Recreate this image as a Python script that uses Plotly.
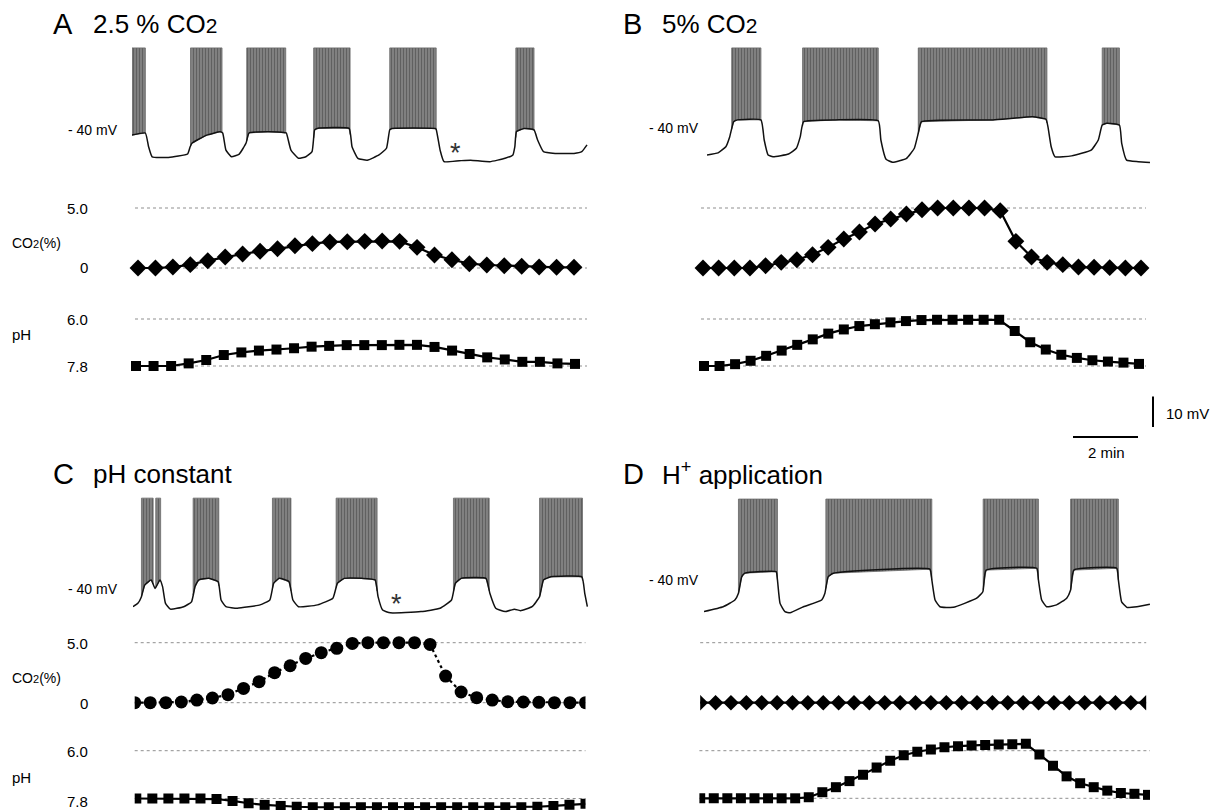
import numpy as np
import plotly.graph_objects as go

W, H = 1216, 810
PX_PER_MIN = 32.5
PX_PER_MV = 3.05
FONT = "Liberation Sans, Arial, Helvetica, sans-serif"

# ---------------- data ----------------
# Panel A: membrane potential breakpoints (min, mV), burst windows (min)
A_t = [0, 0.41, 0.51, 0.62, 1.12, 1.71, 1.79, 1.85, 2.30, 2.71, 2.79, 2.89, 3.06, 3.30, 3.51, 3.60,
       4.18, 4.71, 4.75, 4.89, 5.12, 5.35, 5.54, 5.62, 5.70, 6.68, 6.77, 6.95, 7.24, 7.60, 7.83, 7.93,
       8.0, 9.33, 9.36, 9.48, 9.60, 10.07, 10.42, 11.01, 11.48, 11.72, 11.78, 11.83, 12.07, 12.37,
       12.48, 12.66, 13.02, 13.60, 13.84, 14.0]
A_mv = [-40.7, -40.0, -44.5, -47.8, -48.0, -46.9, -44.5, -43.3, -40.7, -39.6, -40.0, -45.6, -47.8,
        -46.9, -43.3, -40.0, -39.6, -39.9, -40.0, -45.6, -48.3, -47.8, -46.1, -39.0, -38.5, -38.5,
        -44.5, -48.3, -48.9, -47.2, -45.0, -39.0, -38.5, -38.5, -38.8, -45.6, -49.4, -49.1, -48.9,
        -49.4, -48.3, -47.2, -44.5, -39.5, -38.5, -39.0, -42.3, -46.1, -46.7, -46.7, -46.1, -43.9]
A_burst_on = [0.0, 1.80, 3.53, 5.59, 7.93, 11.81]
A_burst_off = [0.41, 2.77, 4.73, 6.71, 9.36, 12.37]
A_co2 = [0, 0, 0.08, 0.28, 0.61, 0.92, 1.17, 1.39, 1.61, 1.86, 2.03, 2.17, 2.19, 2.22, 2.25, 2.22,
         1.72, 1.08, 0.69, 0.36, 0.25, 0.19, 0.14, 0.08, 0.06, 0.06]
A_ph = [7.8, 7.8, 7.8, 7.70, 7.57, 7.38, 7.28, 7.21, 7.17, 7.12, 7.06, 7.03, 7.00, 7.00, 7.00, 6.99,
        6.99, 7.07, 7.21, 7.34, 7.47, 7.55, 7.64, 7.64, 7.70, 7.72]

# Panel B
B_t = [0, 0.34, 0.58, 0.70, 0.82, 0.94, 1.66, 1.76, 1.88, 2.03, 2.51, 2.75, 2.87, 2.97, 3.96, 5.27,
       5.35, 5.51, 5.71, 6.14, 6.38, 6.50, 6.60, 8.80, 10.01, 10.43, 10.49, 10.59, 10.71, 11.22,
       11.82, 12.04, 12.16, 12.30, 12.69, 12.76, 12.91, 13.27, 13.63]
B_mv = [-47.2, -46.5, -44.5, -41.2, -36.3, -35.7, -35.7, -42.3, -47.2, -47.8, -46.9, -45.0, -41.2,
        -36.3, -35.7, -36.0, -42.3, -48.6, -49.6, -48.3, -45.0, -40.1, -36.3, -35.7, -34.7, -35.5,
        -37.9, -44.5, -47.8, -47.5, -45.6, -42.3, -37.4, -36.8, -37.4, -43.4, -48.9, -49.4, -49.7]
B_burst_on = [0.76, 2.94, 6.50, 12.16]
B_burst_off = [1.66, 5.27, 10.46, 12.69]
B_co2 = [0, 0, 0, 0, 0.19, 0.47, 0.69, 1.11, 1.72, 2.42, 3.0, 3.67, 4.08, 4.5, 4.86, 5.0, 5.0, 5.0,
         5.0, 4.78, 2.22, 0.92, 0.47, 0.28, 0.08, 0.06, 0.03, 0, 0]
B_ph = [7.8, 7.8, 7.73, 7.60, 7.41, 7.21, 6.99, 6.78, 6.56, 6.40, 6.27, 6.20, 6.13, 6.08, 6.04, 6.03,
        6.03, 6.03, 6.03, 6.03, 6.46, 6.89, 7.17, 7.37, 7.49, 7.58, 7.63, 7.67, 7.72]

# Panel C
C_t = [0, 0.15, 0.26, 0.36, 0.56, 0.68, 0.83, 0.91, 1.00, 1.15, 1.56, 1.80, 1.91, 2.03, 2.33, 2.62,
       2.71, 2.86, 3.21, 3.91, 4.21, 4.33, 4.50, 4.80, 4.92, 5.09, 5.68, 6.15, 6.29, 6.50, 7.04, 7.45,
       7.54, 7.68, 7.92, 8.86, 9.45, 9.80, 9.92, 10.10, 10.86, 10.98, 11.16, 11.45, 11.74, 11.92,
       12.28, 12.51, 12.63, 12.86, 13.81, 13.90, 13.98]
C_mv = [-44.5, -43.4, -41.2, -37.4, -35.7, -38.5, -35.7, -37.9, -43.4, -45.3, -44.5, -42.9, -37.9,
        -35.7, -35.2, -36.3, -42.3, -44.5, -45.0, -43.9, -42.3, -36.8, -35.2, -36.3, -42.3, -44.5,
        -43.9, -41.7, -36.8, -35.2, -35.2, -35.7, -41.2, -45.6, -46.5, -46.1, -45.0, -42.3, -36.8,
        -35.2, -35.2, -40.1, -45.0, -46.1, -45.3, -45.8, -44.5, -41.2, -35.7, -34.7, -34.7, -40.1,
        -44.5]
C_burst_on = [0.26, 0.70, 1.85, 4.29, 6.25, 9.86, 12.51]
C_burst_off = [0.62, 0.85, 2.64, 4.86, 7.51, 10.96, 13.83]
C_co2 = [0, 0, 0, 0.06, 0.22, 0.39, 0.67, 1.19, 1.75, 2.5, 3.08, 3.69, 4.17, 4.53, 4.94, 5.0, 5.0,
         5.0, 5.0, 4.86, 2.22, 0.89, 0.42, 0.22, 0.08, 0.06, 0.03, 0, 0, 0]
C_ph = [7.8, 7.8, 7.8, 7.8, 7.8, 7.82, 7.89, 7.98, 8.04, 8.08, 8.11, 8.13, 8.13, 8.13, 8.13, 8.13,
        8.13, 8.13, 8.13, 8.13, 8.13, 8.13, 8.13, 8.13, 8.13, 8.11, 8.08, 8.04, 8.0]

# Panel D
D_t = [0, 0.59, 0.95, 1.06, 1.16, 1.26, 2.22, 2.26, 2.34, 2.49, 2.65, 3.06, 3.62, 3.72, 3.82, 3.98,
       6.95, 7.01, 7.11, 7.26, 7.67, 8.39, 8.58, 8.68, 10.24, 10.29, 10.39, 10.54, 10.85, 11.16,
       11.28, 11.38, 12.70, 12.75, 12.85, 13.01, 13.32, 13.72]
D_mv = [-46.1, -44.5, -42.3, -40.1, -34.7, -33.5, -33.0, -35.7, -43.4, -46.1, -46.5, -44.5, -42.3,
        -40.1, -34.7, -33.5, -32.2, -35.7, -42.3, -44.5, -44.7, -41.7, -39.6, -32.5, -31.9, -35.7,
        -42.3, -44.5, -43.9, -41.7, -39.0, -32.5, -31.9, -35.7, -42.9, -44.7, -44.5, -43.7]
D_burst_on = [1.06, 3.75, 8.59, 11.28]
D_burst_off = [2.26, 7.01, 10.29, 12.75]
D_co2 = [0] * 30
D_ph = [7.8, 7.8, 7.8, 7.8, 7.8, 7.8, 7.8, 7.8, 7.76, 7.57, 7.38, 7.15, 6.91, 6.64, 6.38, 6.17, 6.04,
        5.95, 5.87, 5.83, 5.80, 5.78, 5.77, 5.76, 5.74, 6.14, 6.57, 6.97, 7.23, 7.38, 7.51, 7.60,
        7.63, 7.67]

SPIKE_TOP_AB = -12.1
SPIKE_TOP_C = -8.9
SPIKE_TOP_D = -9.2
SCALE_MIN = 2
SCALE_MV = 10

# ---------------- figure ----------------
fig = go.Figure()
layout_axes = {}
counter = [0]


def clamp(v):
    return min(1.0, max(0.0, v))


def new_axes(x0, x1, y0, y1, xr, yr):
    counter[0] += 1
    n = counter[0]
    sfx = "" if n == 1 else str(n)
    layout_axes["xaxis" + sfx] = dict(domain=[clamp(x0 / W), clamp(x1 / W)], range=xr,
                                      visible=False, fixedrange=True, anchor="y" + sfx)
    layout_axes["yaxis" + sfx] = dict(domain=[clamp(1 - y1 / H), clamp(1 - y0 / H)], range=yr,
                                      visible=False, fixedrange=True, anchor="x" + sfx)
    return "x" + sfx, "y" + sfx


def voltage_panel(t, mv, on, off, top, px_left, px_right, py_top, py_bottom, py_m40):
    xr = [0, (px_right - px_left) / PX_PER_MIN]
    yr = [-40 - (py_bottom - py_m40) / PX_PER_MV, -40 + (py_m40 - py_top) / PX_PER_MV]
    xn, yn = new_axes(px_left, px_right, py_top, py_bottom, xr, yr)
    t = np.asarray(t, float)
    mv = np.asarray(mv, float)
    for a, b in zip(on, off):
        inside = (t > a) & (t < b)
        bx = np.concatenate([[a], t[inside], [b, b, a, a]])
        by = np.concatenate([[np.interp(a, t, mv)], mv[inside],
                             [np.interp(b, t, mv), top, top, np.interp(a, t, mv)]])
        fig.add_trace(go.Scatter(
            x=bx, y=by, mode="lines", fill="toself", line=dict(width=0.8, color="#6a6a6a"),
            fillcolor="#707070",
            fillpattern=dict(shape="|", fgcolor="#353535", bgcolor="#8a8a8a", size=3, solidity=0.5),
            xaxis=xn, yaxis=yn, hoverinfo="skip", showlegend=False))
    fig.add_trace(go.Scatter(x=t, y=mv, mode="lines",
                             line=dict(color="#111111", width=1.5, shape="spline", smoothing=0.4),
                             xaxis=xn, yaxis=yn, hoverinfo="skip", showlegend=False))


def marker_panel(vals, px_first, px_last, px_dl, px_dr, py_top, py_bottom, v_hi, v_lo, py_hi, py_lo,
                 symbol, size, dash="solid", clip=False):
    n = len(vals)
    ppi = (px_last - px_first) / (n - 1)
    xr = [(px_dl - px_first) / ppi, (px_dr - px_first) / ppi]
    ppu = (py_lo - py_hi) / (v_lo - v_hi)
    v_top = v_hi + (py_top - py_hi) / ppu
    v_bot = v_hi + (py_bottom - py_hi) / ppu
    xn, yn = new_axes(px_dl, px_dr, py_top, py_bottom, xr, [v_bot, v_top])
    for v in (v_hi, v_lo):
        fig.add_shape(type="line", xref=xn + " domain", yref=yn, x0=0, x1=1, y0=v, y1=v,
                      line=dict(color="#8f8f8f", width=1, dash="3px,3px"), layer="below")
    fig.add_trace(go.Scatter(
        x=list(range(n)), y=vals, mode="lines+markers",
        line=dict(color="black", width=2.2, dash=dash),
        marker=dict(symbol=symbol, size=size, color="black"),
        cliponaxis=clip, xaxis=xn, yaxis=yn, hoverinfo="skip", showlegend=False))


# Voltage traces
voltage_panel(A_t, A_mv, A_burst_on, A_burst_off, SPIKE_TOP_AB, 132, 590, 40, 175, 133)
voltage_panel(B_t, B_mv, B_burst_on, B_burst_off, SPIKE_TOP_AB, 707, 1152, 40, 175, 133)
voltage_panel(C_t, C_mv, C_burst_on, C_burst_off, SPIKE_TOP_C, 133, 590, 490, 625, 593)
voltage_panel(D_t, D_mv, D_burst_on, D_burst_off, SPIKE_TOP_D, 704, 1152, 490, 625, 593)

# CO2 / pH series
marker_panel(A_co2, 138, 574, 135, 587, 195, 285, 5.0, 0.0, 208, 268, "diamond", 13)
marker_panel(A_ph, 136, 575, 135, 587, 300, 385, 6.0, 7.8, 319, 366, "square", 10)
marker_panel(B_co2, 703, 1141, 701, 1146, 195, 285, 5.0, 0.0, 208, 268, "diamond", 13)
marker_panel(B_ph, 704, 1139, 701, 1146, 300, 385, 6.0, 7.8, 319, 366, "square", 10)
marker_panel(C_co2, 134.7, 585.5, 134.7, 585.5, 628, 720, 5.0, 0.0, 642.7, 702.7, "circle", 13,
             dash="dot", clip=True)
marker_panel(C_ph, 136.3, 585.5, 134.7, 585.5, 735, 810, 6.0, 7.8, 750.7, 798.5, "square", 10,
             clip=True)
marker_panel(D_co2, 700.2, 1146.2, 700.2, 1146.2, 628, 720, 5.0, 0.0, 642.7, 702.7, "diamond", 12,
             clip=True)
marker_panel(D_ph, 700.2, 1148, 699.4, 1150, 735, 810, 6.0, 7.8, 750.7, 798.3, "square", 10,
             clip=True)

# Scale bars (drawn in an axis with the same px/min and px/mV scale)
sx0, sx1, sy0, sy1 = 1040, 1200, 380, 460
xn, yn = new_axes(sx0, sx1, sy0, sy1, [0, (sx1 - sx0) / PX_PER_MIN], [0, (sy1 - sy0) / PX_PER_MV])
h_t0 = (1073 - sx0) / PX_PER_MIN
h_v = (sy1 - 437) / PX_PER_MV
v_t = (1153 - sx0) / PX_PER_MIN
v_v0 = (sy1 - 427) / PX_PER_MV
fig.add_trace(go.Scatter(x=[h_t0, h_t0 + SCALE_MIN], y=[h_v, h_v], mode="lines",
                         line=dict(color="black", width=2), xaxis=xn, yaxis=yn,
                         hoverinfo="skip", showlegend=False, cliponaxis=False))
fig.add_trace(go.Scatter(x=[v_t, v_t], y=[v_v0, v_v0 + SCALE_MV], mode="lines",
                         line=dict(color="black", width=2), xaxis=xn, yaxis=yn,
                         hoverinfo="skip", showlegend=False, cliponaxis=False))

# ---------------- text ----------------
ann = []


def txt(text, px, py, size=14, xanchor="left", color="black"):
    ann.append(dict(text=text, x=px / W, y=1 - py / H, xref="paper", yref="paper",
                    xanchor=xanchor, yanchor="middle", showarrow=False,
                    font=dict(family=FONT, size=size, color=color)))


small2 = "<span style='font-size:11px'>2</span>"
big2 = "<span style='font-size:21px'>2</span>"

txt("A", 51, 24, 29)
txt("2.5 % CO" + big2, 91, 24, 26)
txt("B", 621, 24, 29)
txt("5% CO" + big2, 660, 24, 26)
txt("C", 51, 474, 29)
txt("pH constant", 91, 474, 26)
txt("D", 621, 474, 29)
txt("H<sup>+</sup> application", 660, 474, 26)

txt("- 40 mV", 120, 130, 14, "right")
txt("- 40 mV", 701, 128, 14, "right")
txt("- 40 mV", 120, 589, 14, "right")
txt("- 40 mV", 701, 580, 14, "right")

txt("5.0", 90, 208, 15, "right")
txt("CO" + small2 + "(%)", 10, 243, 14)
txt("0", 90, 268, 15, "right")
txt("6.0", 90, 319, 15, "right")
txt("pH", 10, 334, 15)
txt("7.8", 90, 366, 15, "right")

txt("5.0", 90, 643, 15, "right")
txt("CO" + small2 + "(%)", 10, 678, 14)
txt("0", 90, 703, 15, "right")
txt("6.0", 90, 751, 15, "right")
txt("pH", 10, 777, 15)
txt("7.8", 90, 801, 15, "right")

txt("*", 455, 153, 27, "center", "#333333")
txt("*", 396, 604, 27, "center", "#333333")

txt("10 mV", 1164, 413, 15)
txt("2 min", 1106, 452, 15, "center")

fig.update_layout(width=W, height=H, margin=dict(l=0, r=0, t=0, b=0),
                  paper_bgcolor="white", plot_bgcolor="white", showlegend=False,
                  annotations=ann, **layout_axes)
fig.write_html("out.html")
